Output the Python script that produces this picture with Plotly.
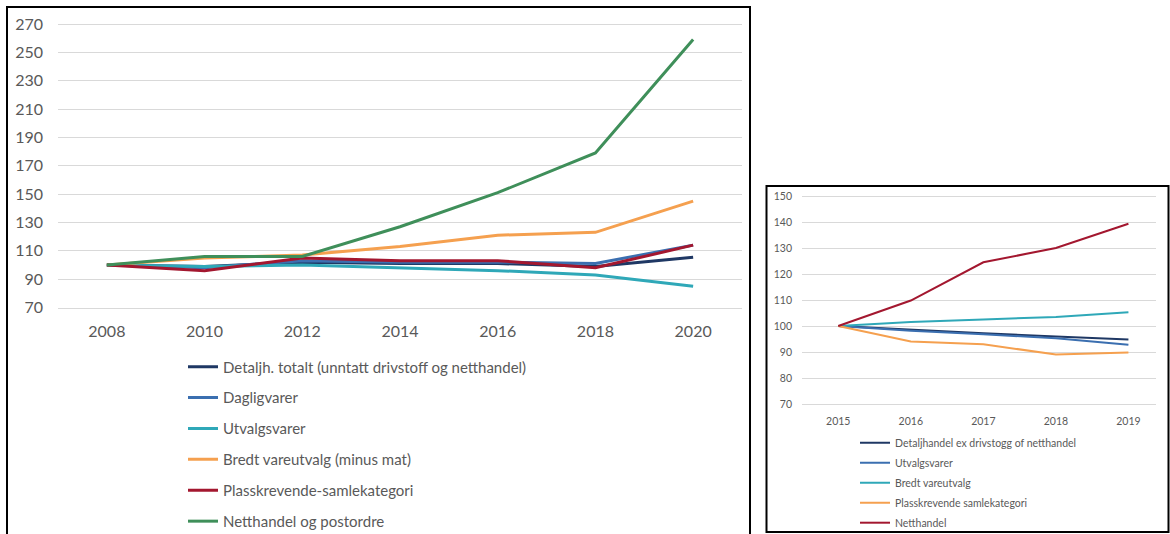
import plotly.graph_objects as go

W, H = 1170, 534

# ---------------- data: left chart ----------------
left_years = ["2008", "2010", "2012", "2014", "2016", "2018", "2020"]
detaljh_totalt = [100, 99, 102, 101, 101, 99, 105.5]
dagligvarer = [100, 98, 103, 102, 102, 101, 114]
utvalgsvarer = [100, 99, 100, 98, 96, 93, 85]
bredt_vareutvalg = [100, 105, 107, 113, 121, 123, 145]
plasskrevende = [100, 96, 105, 103, 103, 98, 114]
netthandel_post = [100, 106, 106, 127, 151, 179, 259]
left_names = [
    "Detaljh. totalt (unntatt drivstoff og netthandel)",
    "Dagligvarer",
    "Utvalgsvarer",
    "Bredt vareutvalg (minus mat)",
    "Plasskrevende-samlekategori",
    "Netthandel og postordre",
]
left_ticks = [70, 90, 110, 130, 150, 170, 190, 210, 230, 250, 270]

# ---------------- data: right chart ----------------
right_years = ["2015", "2016", "2017", "2018", "2019"]
r_detaljhandel = [100, 98.5, 97.2, 96, 94.8]
r_utvalgsvarer = [100, 98.2, 96.8, 95.3, 92.8]
r_bredt = [100, 101.5, 102.5, 103.5, 105.3]
r_plasskrevende = [100, 94, 93, 89, 89.8]
r_netthandel = [100, 109.8, 124.5, 130, 139.3]
right_names = [
    "Detaljhandel ex drivstogg of netthandel",
    "Utvalgsvarer",
    "Bredt vareutvalg",
    "Plasskrevende samlekategori",
    "Netthandel",
]
right_ticks = [70, 80, 90, 100, 110, 120, 130, 140, 150]

# ---------------- styles ----------------
NAVY = "#1f3864"
BLUE = "#3b6fb0"
TEAL = "#2fa8b8"
ORANGE = "#f5a04f"
RED = "#a3172f"
GREEN = "#3f8f5a"
GRAY_TXT = "#595959"
GRID = "#d9d9d9"
FONT = "Lato, 'Open Sans', sans-serif"

left_series = [detaljh_totalt, dagligvarer, utvalgsvarer, bredt_vareutvalg, plasskrevende, netthandel_post]
left_colors = [NAVY, BLUE, TEAL, ORANGE, RED, GREEN]
right_series = [r_detaljhandel, r_utvalgsvarer, r_bredt, r_plasskrevende, r_netthandel]
right_colors = [NAVY, BLUE, TEAL, ORANGE, RED]

fig = go.Figure()
for i, (name, ys, c) in enumerate(zip(left_names, left_series, left_colors)):
    fig.add_trace(go.Scatter(
        x=left_years, y=ys, name=name, mode="lines",
        line=dict(color=c, width=3), xaxis="x", yaxis="y",
        legend="legend", legendgroup=f"L{i}", hoverinfo="x+y+name",
    ))
for i, (name, ys, c) in enumerate(zip(right_names, right_series, right_colors)):
    fig.add_trace(go.Scatter(
        x=right_years, y=ys, name=name, mode="lines",
        line=dict(color=c, width=2), xaxis="x2", yaxis="y2",
        legend="legend2", legendgroup=f"R{i}", hoverinfo="x+y+name",
    ))

def px_x(p):
    return p / W

def px_y(p):
    return 1 - p / H

fig.update_layout(
    width=W, height=H,
    margin=dict(l=0, r=0, t=0, b=0, autoexpand=False),
    paper_bgcolor="white", plot_bgcolor="white",
    font=dict(family=FONT, color=GRAY_TXT),
    xaxis=dict(
        domain=[px_x(58), px_x(742)], range=[-0.5, 6.5], type="category",
        showgrid=False, showline=True, linecolor=GRID, linewidth=1,
        tickfont=dict(size=16, color=GRAY_TXT), ticks="", ticklabelstandoff=9,
        anchor="y", fixedrange=True, automargin=False,
    ),
    yaxis=dict(
        domain=[px_y(307.5), px_y(12.66)], range=[70, 278],
        tickvals=left_ticks, showgrid=True, gridcolor=GRID, gridwidth=1,
        zeroline=False, showline=False,
        tickfont=dict(size=16, color=GRAY_TXT), ticklabelstandoff=14,
        anchor="x", fixedrange=True, automargin=False,
    ),
    xaxis2=dict(
        domain=[px_x(802), px_x(1156)], range=[-0.5, 4.38], type="category",
        showgrid=False, showline=True, linecolor=GRID, linewidth=1,
        tickfont=dict(size=10.5, color=GRAY_TXT), ticks="", ticklabelstandoff=7,
        anchor="y2", fixedrange=True, automargin=False,
    ),
    yaxis2=dict(
        domain=[px_y(404), px_y(188.2)], range=[70, 153],
        tickvals=right_ticks, showgrid=True, gridcolor=GRID, gridwidth=1,
        zeroline=False, showline=False,
        tickfont=dict(size=10.5, color=GRAY_TXT), ticklabelstandoff=9,
        anchor="x2", fixedrange=True, automargin=False,
    ),
    legend=dict(
        x=px_x(183), y=px_y(350.4), xanchor="left", yanchor="top",
        font=dict(size=15, color=GRAY_TXT, family=FONT),
        bgcolor="rgba(0,0,0,0)", borderwidth=0,
        tracegroupgap=8.4, traceorder="grouped",
    ),
    legend2=dict(
        x=px_x(855), y=px_y(428.2), xanchor="left", yanchor="top",
        font=dict(size=10.5, color=GRAY_TXT, family=FONT),
        bgcolor="rgba(0,0,0,0)", borderwidth=0,
        tracegroupgap=1, traceorder="grouped",
    ),
    showlegend=True,
    shapes=[
        dict(type="rect", xref="paper", yref="paper",
             x0=px_x(7), x1=px_x(750), y0=px_y(545), y1=px_y(7),
             line=dict(color="black", width=2), fillcolor="rgba(0,0,0,0)", layer="above"),
        dict(type="rect", xref="paper", yref="paper",
             x0=px_x(766.5), x1=px_x(1168.5), y0=px_y(532), y1=px_y(186),
             line=dict(color="black", width=2), fillcolor="rgba(0,0,0,0)", layer="above"),
    ],
)

fig.write_html("out.html")
